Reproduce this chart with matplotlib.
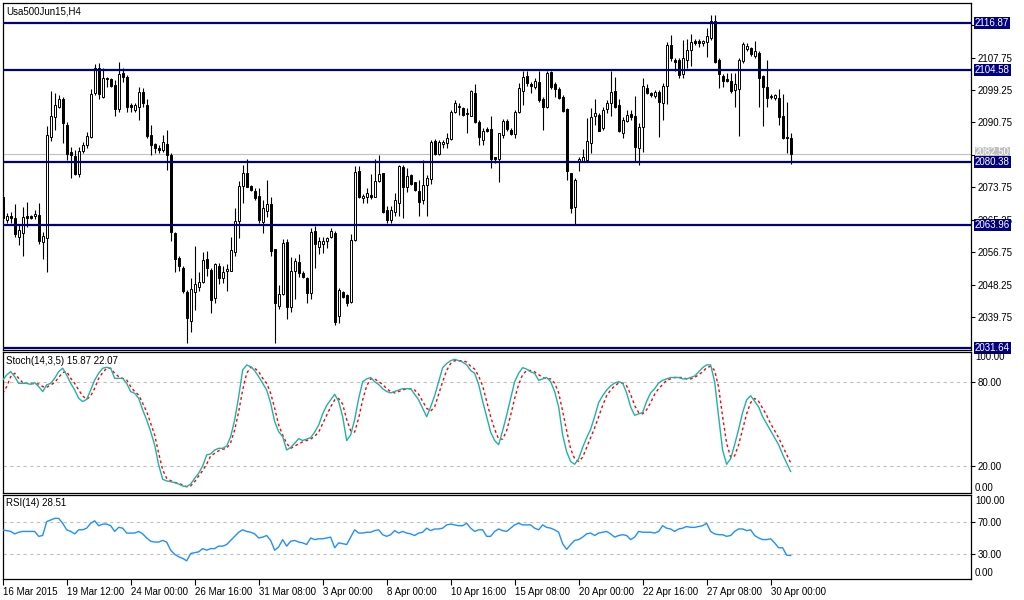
import numpy as np
import matplotlib
matplotlib.use("Agg")
import matplotlib.pyplot as plt
from matplotlib.transforms import blended_transform_factory

plt.rcParams['font.family'] = ['Liberation Sans', 'DejaVu Sans']

# H4 candles, Usa500Jun15
opens = [2071.3, 2065.2, 2066.3, 2065.6, 2060.8, 2061.9, 2066.2, 2066.1, 2066.1, 2066.4,
         2059.3, 2060.4, 2086.8, 2092.1, 2094.9, 2096.9, 2090.1, 2083.1, 2081.9, 2077.2,
         2083.3, 2084.7, 2087.0, 2098.4, 2105.1, 2097.5, 2102.5, 2102.1, 2100.6, 2094.2,
         2103.8, 2102.6, 2095.3, 2094.0, 2094.7, 2098.6, 2095.3, 2087.5, 2085.0, 2084.1,
         2083.5, 2085.0, 2082.2, 2061.9, 2055.1, 2052.5, 2046.4, 2038.8, 2046.4, 2047.7,
         2049.0, 2054.9, 2052.1, 2044.7, 2053.1, 2050.1, 2051.7, 2051.7, 2056.7, 2065.0,
         2074.2, 2077.6, 2074.1, 2072.8, 2071.5, 2064.7, 2067.6, 2069.5, 2057.5, 2042.7,
         2045.8, 2059.3, 2042.3, 2051.7, 2054.3, 2051.2, 2049.9, 2046.1, 2062.3, 2058.2,
         2058.8, 2059.7, 2060.6, 2061.7, 2039.9, 2046.2, 2045.4, 2043.8, 2059.9, 2078.0,
         2070.9, 2071.1, 2071.7, 2071.3, 2075.4, 2077.4, 2067.8, 2065.2, 2067.4, 2069.7,
         2079.0, 2073.7, 2077.0, 2075.1, 2072.8, 2070.3, 2074.4, 2075.8, 2086.0, 2082.4,
         2085.1, 2085.3, 2086.4, 2093.4, 2095.1, 2094.6, 2093.1, 2092.5, 2098.4, 2090.9,
         2086.1, 2089.0, 2089.0, 2081.6, 2081.1, 2087.5, 2091.2, 2088.8, 2087.7, 2093.4,
         2099.1, 2102.9, 2100.8, 2099.9, 2101.3, 2096.8, 2094.9, 2103.9, 2100.8, 2099.4,
         2097.3, 2094.3, 2077.4, 2068.5, 2080.6, 2080.7, 2080.9, 2085.3, 2092.3, 2092.7,
         2089.2, 2094.2, 2095.8, 2099.0, 2095.3, 2088.1, 2091.2, 2093.0, 2092.4, 2084.0,
         2089.6, 2099.7, 2098.4, 2097.7, 2098.8, 2095.8, 2100.3, 2111.0, 2107.1, 2107.1,
         2103.4, 2107.1, 2109.7, 2112.1, 2112.1, 2111.5, 2111.7, 2112.8, 2117.2, 2107.1,
         2102.9, 2102.1, 2101.7, 2099.2, 2099.4, 2106.9, 2109.9, 2110.2, 2108.1, 2108.9,
         2102.9, 2099.9, 2097.7, 2097.1, 2097.1, 2092.4, 2086.8, 2086.6]
highs = [2071.3, 2066.9, 2067.4, 2069.4, 2063.9, 2068.5, 2069.9, 2066.5, 2067.8, 2069.6,
         2062.1, 2089.8, 2099.0, 2098.4, 2097.8, 2097.5, 2090.9, 2084.4, 2083.5, 2084.4,
         2085.7, 2088.3, 2099.4, 2106.1, 2106.2, 2104.9, 2102.7, 2102.3, 2101.9, 2106.6,
         2104.9, 2103.2, 2095.8, 2095.8, 2100.1, 2099.7, 2096.8, 2090.1, 2085.4, 2084.8,
         2087.5, 2088.8, 2082.7, 2062.1, 2055.7, 2053.0, 2046.8, 2049.9, 2058.4, 2051.5,
         2056.9, 2057.1, 2052.5, 2054.0, 2054.0, 2053.0, 2053.6, 2060.8, 2068.2, 2075.4,
         2079.6, 2081.1, 2074.4, 2073.5, 2073.5, 2070.4, 2075.7, 2071.3, 2057.7, 2048.1,
         2060.2, 2060.1, 2055.6, 2055.1, 2056.3, 2051.7, 2050.2, 2063.0, 2063.7, 2060.8,
         2060.6, 2060.8, 2063.0, 2062.3, 2047.3, 2046.7, 2045.7, 2061.4, 2079.3, 2079.2,
         2072.0, 2073.5, 2077.1, 2081.1, 2082.2, 2077.6, 2068.8, 2068.8, 2072.2, 2079.6,
         2079.6, 2078.7, 2077.1, 2075.2, 2075.7, 2080.9, 2077.0, 2086.1, 2086.3, 2086.1,
         2086.1, 2087.9, 2094.0, 2096.6, 2095.8, 2094.9, 2094.4, 2099.2, 2100.8, 2091.4,
         2089.2, 2089.6, 2092.3, 2081.8, 2088.1, 2091.6, 2091.6, 2089.2, 2094.0, 2101.2,
         2104.1, 2104.1, 2101.4, 2102.3, 2104.1, 2097.3, 2104.1, 2104.1, 2101.4, 2100.1,
         2097.9, 2094.4, 2077.6, 2076.1, 2081.8, 2083.9, 2091.8, 2094.4, 2096.8, 2093.1,
         2094.9, 2096.6, 2104.3, 2102.7, 2096.8, 2092.1, 2094.0, 2094.0, 2097.7, 2090.5,
         2102.3, 2100.8, 2098.8, 2099.2, 2099.2, 2101.0, 2111.9, 2113.7, 2107.5, 2107.5,
         2112.3, 2112.5, 2113.9, 2112.6, 2112.5, 2112.3, 2115.4, 2118.9, 2118.9, 2107.5,
         2103.4, 2103.6, 2103.6, 2103.6, 2107.5, 2111.9, 2111.5, 2110.6, 2112.1, 2109.5,
         2103.2, 2107.1, 2098.2, 2098.2, 2099.4, 2098.1, 2096.2, 2088.1]
lows = [2065.6, 2064.3, 2064.5, 2060.8, 2058.5, 2055.7, 2063.3, 2065.4, 2065.4, 2058.9,
        2055.0, 2051.6, 2086.0, 2088.8, 2094.4, 2085.4, 2080.9, 2076.1, 2076.9, 2076.5,
        2082.7, 2084.0, 2086.6, 2097.8, 2096.8, 2097.1, 2100.1, 2100.1, 2092.5, 2093.6,
        2101.4, 2093.6, 2093.6, 2093.6, 2091.4, 2094.9, 2086.6, 2082.2, 2082.7, 2082.7,
        2083.1, 2078.3, 2059.8, 2051.6, 2051.9, 2046.1, 2032.9, 2035.9, 2041.6, 2046.5,
        2048.6, 2050.6, 2040.7, 2043.5, 2048.4, 2048.6, 2046.7, 2051.7, 2055.7, 2060.4,
        2069.7, 2073.7, 2072.9, 2070.4, 2064.5, 2061.7, 2065.9, 2055.8, 2033.0, 2041.8,
        2045.5, 2039.3, 2041.0, 2044.5, 2050.3, 2049.9, 2043.5, 2044.4, 2052.5, 2056.2,
        2056.6, 2057.9, 2060.4, 2037.8, 2038.3, 2044.7, 2042.7, 2043.4, 2059.8, 2070.9,
        2069.7, 2069.7, 2070.6, 2071.3, 2075.2, 2066.9, 2064.3, 2064.3, 2066.1, 2066.1,
        2065.6, 2072.6, 2074.4, 2072.8, 2066.3, 2069.5, 2066.3, 2074.6, 2082.2, 2082.2,
        2084.0, 2084.0, 2086.1, 2093.1, 2092.7, 2092.3, 2088.1, 2092.3, 2090.5, 2084.8,
        2084.8, 2088.3, 2078.7, 2080.0, 2075.2, 2086.6, 2088.6, 2087.5, 2086.6, 2093.1,
        2095.3, 2100.3, 2098.5, 2099.4, 2096.2, 2088.8, 2094.4, 2099.4, 2097.5, 2096.8,
        2093.6, 2075.7, 2066.9, 2063.9, 2077.9, 2080.5, 2080.5, 2082.7, 2090.1, 2088.5,
        2088.8, 2093.1, 2092.4, 2094.6, 2088.3, 2086.6, 2090.9, 2091.4, 2080.5, 2079.6,
        2083.1, 2098.1, 2097.5, 2097.1, 2087.0, 2091.4, 2095.5, 2106.8, 2104.1, 2102.3,
        2102.5, 2104.9, 2105.4, 2110.9, 2110.6, 2110.8, 2108.0, 2112.3, 2106.2, 2099.7,
        2100.1, 2101.3, 2098.4, 2094.7, 2087.3, 2106.2, 2109.5, 2108.2, 2107.7, 2094.7,
        2089.9, 2094.7, 2096.8, 2096.6, 2090.1, 2086.3, 2082.8, 2079.8]
closes = [2065.6, 2066.1, 2065.6, 2061.4, 2062.5, 2065.9, 2065.8, 2065.6, 2066.7, 2059.8,
          2061.0, 2087.5, 2092.3, 2095.3, 2096.9, 2090.5, 2082.6, 2082.2, 2077.2, 2083.3,
          2084.7, 2087.2, 2098.1, 2105.1, 2098.1, 2102.5, 2102.2, 2100.3, 2094.2, 2103.4,
          2102.7, 2094.9, 2094.7, 2095.3, 2098.6, 2095.8, 2087.3, 2084.7, 2084.1, 2083.5,
          2085.5, 2082.2, 2062.1, 2054.9, 2053.0, 2046.7, 2039.4, 2047.0, 2048.3, 2048.9,
          2054.7, 2052.5, 2044.2, 2053.6, 2049.9, 2051.5, 2052.3, 2057.3, 2064.9, 2074.1,
          2077.6, 2073.9, 2073.1, 2070.9, 2065.2, 2068.2, 2069.3, 2057.1, 2043.4, 2045.8,
          2059.1, 2042.3, 2051.7, 2054.4, 2051.4, 2050.2, 2046.0, 2062.0, 2058.8, 2059.7,
          2059.7, 2060.4, 2062.3, 2038.5, 2046.8, 2045.1, 2043.5, 2059.9, 2077.7, 2071.3,
          2071.5, 2072.2, 2071.3, 2075.4, 2077.2, 2067.4, 2065.2, 2067.8, 2070.4, 2079.3,
          2073.7, 2076.8, 2074.6, 2073.0, 2070.0, 2074.4, 2076.1, 2085.7, 2082.4, 2085.5,
          2085.5, 2086.6, 2093.6, 2095.8, 2094.7, 2092.7, 2093.0, 2099.0, 2090.8, 2086.8,
          2088.6, 2088.6, 2081.1, 2081.2, 2087.9, 2091.2, 2088.9, 2087.7, 2093.4, 2099.7,
          2102.6, 2101.2, 2100.3, 2101.7, 2096.5, 2094.9, 2103.8, 2100.1, 2099.4, 2097.1,
          2093.8, 2077.9, 2068.2, 2075.7, 2081.2, 2081.6, 2085.9, 2092.1, 2093.1, 2088.6,
          2094.0, 2095.8, 2098.6, 2094.9, 2088.6, 2091.4, 2092.7, 2092.1, 2084.4, 2089.6,
          2100.3, 2098.4, 2097.9, 2098.8, 2096.2, 2100.3, 2111.0, 2107.5, 2106.7, 2103.2,
          2107.7, 2109.7, 2111.9, 2111.5, 2111.6, 2112.1, 2113.4, 2117.2, 2106.7, 2103.4,
          2101.6, 2101.7, 2099.1, 2100.8, 2107.1, 2111.2, 2110.8, 2108.6, 2109.5, 2102.5,
          2099.9, 2097.2, 2097.3, 2097.9, 2092.1, 2086.6, 2086.6, 2082.5]

# Stochastic(14,3,5): main and signal line
stoch_main = [81.2, 84.8, 87.2, 83.6, 78.8, 78.8, 78.8, 78.1, 79.3, 76.5, 72.9,
              77.7, 78.8, 82.4, 87.2, 89.6, 84.8, 78.8, 74.1, 68.1, 65.8,
              67.4, 74.1, 81.2, 86.0, 89.6, 90.3, 89.6, 82.4, 82.4, 82.4,
              78.8, 72.9, 71.7, 68.1, 59.8, 52.7, 44.3, 34.8, 20.5, 10.3,
              9.1, 8.6, 7.9, 6.9, 5.5, 5.0, 6.9, 11.0, 14.6, 19.8,
              27.7, 28.4, 31.2, 32.4, 32.4, 34.1, 40.8, 52.7, 69.3, 88.4,
              91.9, 90.8, 87.9, 83.6, 78.8, 74.1, 64.6, 51.5, 44.3, 40.8,
              31.2, 33.1, 36.0, 39.3,
              38, 39, 40, 44, 49, 57, 63, 67, 71, 66, 55, 38, 42, 53, 68, 80, 82, 83, 80, 78,
              75, 73, 72, 73, 74, 75, 75, 75, 71, 67, 61, 55, 62, 70, 80, 90, 93, 95, 96, 95,
              94, 92, 88, 86, 78, 66, 55, 44, 38, 35, 45, 56, 68, 80, 86, 90, 89, 87, 86, 81,
              82, 83, 80, 73, 62, 42, 30, 23, 21, 25, 33, 40, 46, 55, 65, 70, 74, 77, 79, 80,
              79, 72, 62, 56, 57, 58, 66, 72, 75, 79, 81, 82, 83, 83, 83, 82, 82, 83, 84, 87,
              90, 92, 92, 80, 55, 31, 21, 25, 35, 46, 58, 67, 70, 66, 62, 55, 50, 45, 40, 35,
              28, 22, 15.87]
stoch_signal = [71.7, 76.5, 83.6, 86.0, 82.4, 79.3, 78.8, 78.8, 78.4, 78.4, 76.5,
                76.0, 77.7, 79.3, 83.1, 86.5, 87.2, 82.4, 78.8, 74.1, 69.8,
                67.4, 69.8, 75.3, 82.4, 86.5, 89.6, 89.6, 86.0, 83.6, 82.4,
                81.2, 76.5, 72.9, 70.5, 64.6, 58.6, 50.3, 41.9, 28.8, 17.0,
                11.0, 9.3, 8.1, 7.4, 6.2, 5.0, 5.5, 8.6, 12.7, 16.5,
                21.2, 27.0, 28.8, 30.7, 31.7, 32.4, 36.5, 45.5, 58.6, 74.1,
                86.0, 90.3, 89.6, 87.2, 82.4, 78.8, 71.7, 61.0, 49.1, 41.9,
                36.0, 32.4, 34.1, 35.5,
                37, 38, 39, 41, 44, 50, 56, 62, 67, 68, 64, 53, 45, 44, 54, 67, 77, 82, 82, 80,
                78, 75, 73, 72, 73, 74, 75, 75, 74, 71, 66, 61, 59, 62, 71, 80, 88, 93, 95, 95,
                95, 94, 91, 89, 84, 77, 66, 55, 46, 39, 39, 45, 56, 68, 78, 85, 88, 88, 87, 85,
                83, 82, 82, 79, 72, 59, 45, 32, 25, 23, 26, 33, 40, 47, 55, 63, 70, 74, 77, 79,
                79, 77, 71, 63, 58, 57, 60, 65, 71, 75, 78, 81, 82, 83, 83, 83, 82, 82, 83, 85,
                87, 90, 91, 88, 76, 55, 36, 26, 27, 35, 46, 57, 65, 68, 66, 61, 56, 50, 45, 40,
                34, 28, 22.07]
rsi = [59.7, 59, 58, 55, 57, 58, 58, 58, 58, 52, 53, 70, 72, 74, 74, 68, 60, 58, 55, 60, 60,
       62, 68, 71, 65, 67, 67, 65, 58, 63, 62, 56, 56, 56, 58, 55, 50, 46, 45, 45, 47,
       45, 35, 30, 27, 25, 22, 31, 32, 33, 37, 35, 37, 37, 40, 40, 42, 47, 52, 57, 60,
       58, 57, 55, 50, 51, 53, 47, 35, 39, 48, 40, 46, 47,
       45, 44, 42, 50, 48, 49, 49, 50, 51, 38, 44, 43, 42, 51, 60, 56, 56, 57, 57, 59,
       60, 54, 52, 54, 59, 56, 58, 56, 55, 53, 56, 57, 62, 59, 61, 61, 62, 66, 67, 66,
       65, 65, 68, 62, 58, 60, 60, 52, 52, 58, 61, 59, 58, 62, 66, 68, 66, 66, 66, 62,
       60, 66, 63, 62, 60, 57, 43, 36, 42, 47, 48, 51, 55, 56, 53, 56, 57, 58, 55, 51,
       53, 54, 53, 48, 51, 58, 57, 57, 57, 56, 58, 65, 62, 61, 58, 61, 62, 64, 63, 63,
       64, 65, 68, 58, 55, 54, 54, 52, 53, 58, 61, 61, 59, 60, 53, 50, 48, 48, 49, 44,
       38, 38, 29, 28.51]

levels = [2116.87, 2104.58, 2080.38, 2063.96, 2031.64]
bid = 2082.50
price_ticks = [2116.25, 2107.75, 2099.25, 2090.75, 2082.25, 2073.75, 2065.25,
               2056.75, 2048.25, 2039.75]
# ticks whose labels sit completely under a price box
hidden_ticks = [2116.25, 2082.25]
date_labels = ["16 Mar 2015", "19 Mar 12:00", "24 Mar 00:00", "26 Mar 16:00",
               "31 Mar 08:00", "3 Apr 00:00", "8 Apr 00:00", "10 Apr 16:00",
               "15 Apr 08:00", "20 Apr 00:00", "22 Apr 16:00", "27 Apr 08:00",
               "30 Apr 00:00"]

n = len(closes)
assert len(opens) == n and len(highs) == n and len(lows) == n
assert len(stoch_main) == n and len(stoch_signal) == n and len(rsi) == n

W, H = 1024, 600
fig = plt.figure(figsize=(W / 100, H / 100), dpi=100)
left = 2.5 / W
width = (971 - 2.5) / W
ax = fig.add_axes([left, 1 - 350 / H, width, 347 / H])
ax2 = fig.add_axes([left, 1 - 493 / H, width, 141 / H])
ax3 = fig.add_axes([left, 1 - 579 / H, width, 84 / H])

FS = 7
navy = '#000080'
xlim = (-0.05, 242.1)

for a in (ax, ax2, ax3):
    a.set_xlim(*xlim)
    for s in a.spines.values():
        s.set_linewidth(0.9)
        s.set_color('black')
    a.yaxis.tick_right()
    a.tick_params(axis='y', direction='out', length=3, width=0.8,
                  labelsize=FS, pad=1.5, left=False, right=True)
    a.tick_params(axis='x', bottom=False, labelbottom=False)

# --- price panel
x = np.arange(n)
o = np.array(opens)
c = np.array(closes)
up = c >= o
ax.vlines(x, lows, highs, color='black', lw=0.8, zorder=3)
ax.bar(x[up], (c - o)[up], bottom=o[up], width=0.55, color='white',
       edgecolor='black', lw=0.7, zorder=4)
ax.bar(x[~up], (o - c)[~up], bottom=c[~up], width=0.55, color='black',
       edgecolor='black', lw=0.7, zorder=4)
ax.axhline(bid, color='#C0C0C0', lw=0.8, zorder=2)
for lv in levels:
    ax.axhline(lv, color=navy, lw=1.6, zorder=5)
ax.set_ylim(2031.12, 2122.03)
ax.set_yticks(price_ticks)
ax.set_yticklabels(["" if v in hidden_ticks else f"{v:.2f}" for v in price_ticks])

tr = blended_transform_factory(ax.transAxes, ax.transData)
xb = (975 - 2.5) / (971 - 2.5)
for lv in levels:
    ax.text(xb, lv, f"{lv:.2f}", transform=tr, color='white', fontsize=FS,
            va='center', ha='left', clip_on=False, zorder=10,
            bbox=dict(boxstyle='square,pad=0.1', fc=navy, ec='none'))
ax.text(xb, bid + 0.4, f"{bid:.2f}", transform=tr, color='white', fontsize=FS,
        va='center', ha='left', clip_on=False, zorder=9,
        bbox=dict(boxstyle='square,pad=0.05', fc='#C0C0C0', ec='none'))
ax.text(4 / 968.5, 1 - 4 / 347, "Usa500Jun15,H4", transform=ax.transAxes,
        fontsize=FS, va='top', ha='left')

# --- stochastic panel
ax2.plot(x, stoch_main, color='#20B2AA', lw=1.0, zorder=3)
ax2.plot(x, stoch_signal, color='red', lw=1.0, ls=(0, (2, 2)), zorder=2)
for lv in (80, 20):
    ax2.axhline(lv, color='#C0C0C0', lw=0.8, ls=(0, (3, 3)), zorder=1)
ax2.set_ylim(0.5, 101.2)
ax2.set_yticks([80, 20])
ax2.set_yticklabels(["80.00", "20.00"])
tr2 = blended_transform_factory(ax2.transAxes, ax2.transData)
xl = (975 - 2.5) / (971 - 2.5)
ax2.text(xl, 97.6, "100.00", transform=tr2, fontsize=FS, va='center', ha='left', clip_on=False)
ax2.text(xl, 4.4, "0.00", transform=tr2, fontsize=FS, va='center', ha='left', clip_on=False)
ax2.text(4 / 968.5, 1 - 4 / 141, f"Stoch(14,3,5) {stoch_main[-1]:.2f} {stoch_signal[-1]:.2f}",
         transform=ax2.transAxes, fontsize=FS, va='top', ha='left')

# --- RSI panel
ax3.plot(x, rsi, color='#1E90FF', lw=1.0, zorder=3)
for lv in (70, 30):
    ax3.axhline(lv, color='#C0C0C0', lw=0.8, ls=(0, (3, 3)), zorder=1)
ax3.set_ylim(-0.24, 102.6)
ax3.set_yticks([70, 30])
ax3.set_yticklabels(["70.00", "30.00"])
tr3 = blended_transform_factory(ax3.transAxes, ax3.transData)
ax3.text(xl, 95.6, "100.00", transform=tr3, fontsize=FS, va='center', ha='left', clip_on=False)
ax3.text(xl, 6.5, "0.00", transform=tr3, fontsize=FS, va='center', ha='left', clip_on=False)
ax3.text(4 / 968.5, 1 - 3 / 84, f"RSI(14) {rsi[-1]:.2f}",
         transform=ax3.transAxes, fontsize=FS, va='top', ha='left')

ax3.tick_params(axis='x', bottom=True, labelbottom=True, direction='out',
                length=4, width=0.8, labelsize=FS, pad=1.5)
ax3.set_xticks(np.arange(0, n, 16))
ax3.set_xticklabels(date_labels, ha='left')

fig.savefig("out.png", dpi=100, facecolor='white')
